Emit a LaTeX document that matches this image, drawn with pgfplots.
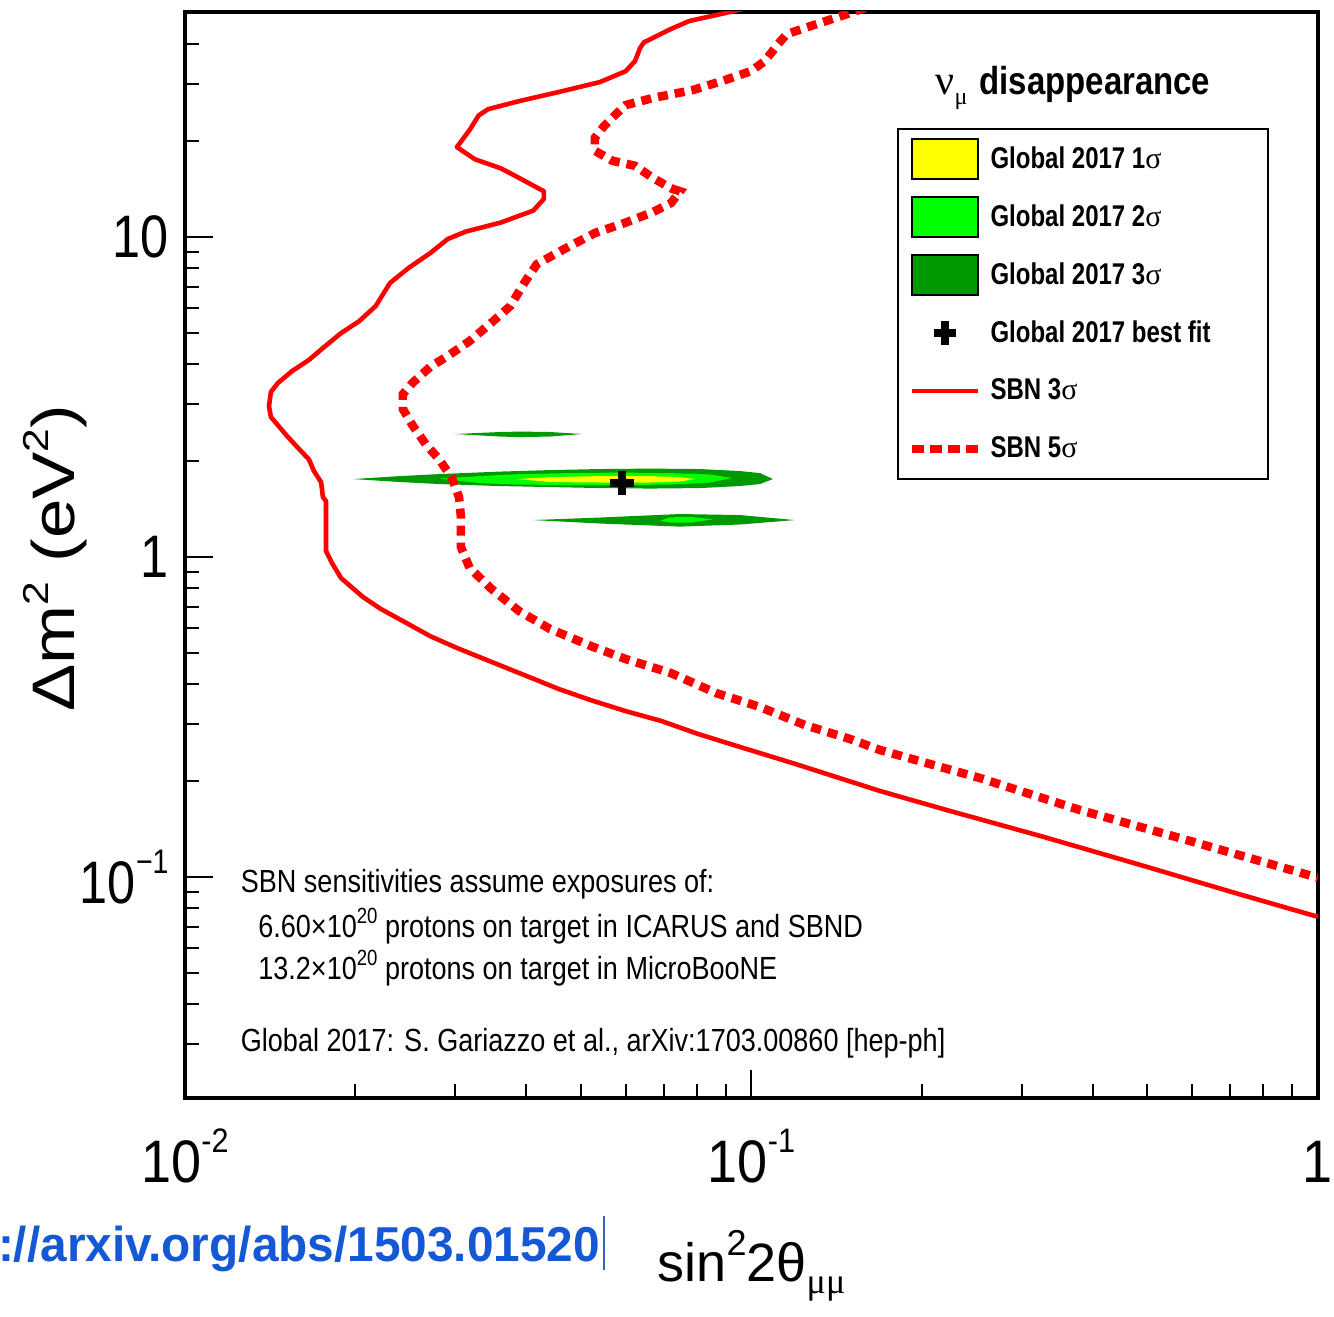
\documentclass[border=0pt]{standalone}
\usepackage{fontspec}
\setmainfont{Liberation Sans}
\newfontfamily\cnd{Liberation Sans}[FakeStretch=0.845]
\newfontfamily\lgd{Liberation Sans}[FakeStretch=0.8]
\newfontfamily\xtk{Liberation Sans}[FakeStretch=0.9]
\newfontfamily\ytk{Liberation Sans}[FakeStretch=0.84]
\newfontfamily\wide{Liberation Sans}[FakeStretch=1.18]
\newfontfamily\grk{Liberation Serif}
\newfontfamily\urlfont{Liberation Sans}[FakeStretch=0.975]
\usepackage{pgfplots}
\pgfplotsset{compat=1.18}
\definecolor{ylw}{RGB}{255,255,0}
\definecolor{lgr}{RGB}{0,255,0}
\definecolor{dgr}{RGB}{0,153,0}
\definecolor{rred}{RGB}{255,0,0}
\definecolor{urlblue}{RGB}{21,88,214}
\newcommand{\fs}[1]{\fontsize{#1}{#1}\selectfont}
\begin{document}
\begin{tikzpicture}
\begin{axis}[
 name=ax, at={(0pt,0pt)}, anchor=south west,
 width=566.5pt, height=543pt, scale only axis,
 xmode=log, ymode=log,
 xmin=0.01, xmax=1, ymin=0.0204, ymax=50.5,
 axis line style={line width=2pt},
 tick align=inside, tick pos=left,
 major tick length=14pt, minor tick length=7pt,
 every tick/.append style={black, line width=1pt},
 xtick={0.01,0.1,1},
 xticklabels={{10\raisebox{15pt}{\fs{17}-2}},{10\raisebox{15pt}{\fs{17}-1}},{1}},
 ytick={0.1,1,10},
 yticklabels={{10\raisebox{15pt}{\fs{17}−1}},{1},{10}},
 minor xtick={0.02,0.03,0.04,0.05,0.06,0.07,0.08,0.09,0.2,0.3,0.4,0.5,0.6,0.7,0.8,0.9},
 minor ytick={0.03,0.04,0.05,0.06,0.07,0.08,0.09,0.2,0.3,0.4,0.5,0.6,0.7,0.8,0.9,2,3,4,5,6,7,8,9,20,30,40},
 xticklabel style={font=\xtk\fs{30}, anchor=base, inner sep=0pt, yshift=-42pt},
 yticklabel style={font=\ytk\fs{30}, anchor=east, inner sep=0pt, xshift=-8pt},
 xlabel={sin\raisebox{13pt}{\fs{18}2}2θ\raisebox{-6pt}{\grk\fs{18}μμ}},
 ylabel={Δm\raisebox{13pt}{\fs{18}2} (eV\raisebox{13pt}{\fs{18}2})},
 xlabel style={at={(axis description cs:0.5,-0.1694)}, anchor=base, font=\fs{27}},
 ylabel style={at={(axis description cs:-0.0971,0.497)}, anchor=base, font=\wide\fs{30}},
 legend style={at={(0.6284,0.8932)}, anchor=north west, draw=black, line width=1pt, fill=white,
   inner xsep=5pt, inner ysep=4.5pt, row sep=8pt,
   font=\lgd\bfseries\fs{15},
   nodes={inner sep=0.5pt},
   /tikz/every odd column/.append style={column sep=3.5pt}},
 legend cell align=left,
]
% Global 2017 regions
\addplot[fill=dgr, draw=none, forget plot] coordinates {
(0.01980,1.753) (0.02396,1.791) (0.02819,1.817) (0.03597,1.850) (0.04410,1.870) (0.05402,1.884) (0.0662,1.890) (0.08111,1.884) (0.09544,1.857) (0.1035,1.830) (0.1091,1.753) (0.1035,1.691) (0.09544,1.667) (0.08111,1.643) (0.0662,1.637) (0.05402,1.643) (0.04410,1.655) (0.03597,1.667) (0.02819,1.691) (0.02396,1.716)};
\addplot[fill=dgr, draw=none, forget plot] coordinates {
(0.02996,2.424) (0.03597,2.459) (0.03903,2.467) (0.04410,2.459) (0.05021,2.424) (0.04410,2.380) (0.03903,2.371) (0.03597,2.380)};
\addplot[fill=dgr, draw=none, forget plot] coordinates {
(0.04115,1.305) (0.05402,1.329) (0.07476,1.363) (0.09544,1.353) (0.1193,1.305) (0.09544,1.264) (0.07476,1.245) (0.05402,1.273)};
\addplot[fill=lgr, draw=none, forget plot] coordinates {
(0.02819,1.759) (0.03317,1.791) (0.03903,1.817) (0.04781,1.830) (0.05861,1.837) (0.07181,1.830) (0.08448,1.811) (0.09239,1.766) (0.08448,1.710) (0.07181,1.685) (0.05861,1.679) (0.04781,1.679) (0.03903,1.685) (0.03317,1.703)};
\addplot[fill=lgr, draw=none, forget plot] coordinates {
(0.06896,1.300) (0.07181,1.330) (0.07789,1.337) (0.08551,1.312) (0.07789,1.280) (0.07181,1.282)};
\addplot[fill=ylw, draw=none, forget plot] coordinates {
(0.03856,1.753) (0.04410,1.778) (0.05402,1.791) (0.0662,1.791) (0.07476,1.778) (0.07948,1.753) (0.07476,1.722) (0.0662,1.710) (0.05402,1.710) (0.04410,1.716)};
% SBN 3 sigma
\addplot[rred, line width=2.3pt, line join=round, forget plot] coordinates {
(0.0982,52.0) (0.0898,50.1) (0.0776,47.3) (0.0721,44.7) (0.0646,40.6) (0.0636,39.0) (0.0623,35.5) (0.0600,33.0) (0.0540,30.5) (0.0457,28.4) (0.0389,26.6) (0.0343,25.1) (0.0330,24.0) (0.0318,21.6) (0.0302,19.1) (0.0325,17.5) (0.0361,16.4) (0.0389,15.3) (0.0430,13.9) (0.0430,13.15) (0.0412,12.1) (0.0361,11.1) (0.0313,10.4) (0.0291,9.86) (0.0271,8.91) (0.0248,8.0) (0.0230,7.18) (0.0217,6.08) (0.0203,5.46) (0.01886,5.01) (0.01752,4.50) (0.01655,4.13) (0.01545,3.81) (0.01459,3.50) (0.01418,3.28) (0.01407,2.96) (0.01418,2.74) (0.01514,2.39) (0.01596,2.16) (0.01655,2.02) (0.01689,1.858) (0.01739,1.714) (0.01752,1.54) (0.01774,1.496) (0.01774,1.044) (0.01818,0.958) (0.01886,0.860) (0.02062,0.750) (0.02218,0.688) (0.02425,0.631) (0.0271,0.566) (0.0302,0.520) (0.0348,0.470) (0.0397,0.428) (0.0457,0.387) (0.0521,0.357) (0.0600,0.330) (0.0695,0.307) (0.0805,0.280) (0.0931,0.2585) (0.1198,0.2254) (0.1686,0.1858) (0.2211,0.162) (0.3271,0.1337) (0.4983,0.1077) (0.7186,0.0889) (0.9748,0.0761) (1.0,0.0752)};
% SBN 5 sigma
\addplot[rred, line width=4.3pt, dash pattern=on 5pt off 3.5pt, forget plot] coordinates {
(0.1586,52.0) (0.1493,50.1) (0.1289,46.0) (0.1155,43.1) (0.1114,40.1) (0.1056,35.5) (0.0998,33.0) (0.0898,30.95) (0.0788,28.8) (0.0670,27.2) (0.0600,25.85) (0.0579,24.4) (0.0549,22.2) (0.0529,20.4) (0.0529,18.6) (0.0569,17.3) (0.0623,16.7) (0.0670,15.3) (0.0721,14.2) (0.0748,13.9) (0.0721,12.77) (0.0670,11.97) (0.0600,11.1) (0.0529,10.29) (0.0467,9.17) (0.0418,8.23) (0.0397,7.18) (0.0375,6.08) (0.0350,5.46) (0.0318,4.73) (0.0291,4.25) (0.0271,3.93) (0.0252,3.50) (0.02425,3.23) (0.02425,2.90) (0.0252,2.585) (0.0266,2.254) (0.0281,2.02) (0.0296,1.766) (0.03046,1.54) (0.0307,1.334) (0.0307,1.075) (0.0318,0.925) (0.0348,0.794) (0.0389,0.678) (0.0441,0.596) (0.0521,0.527) (0.0600,0.480) (0.0721,0.434) (0.0866,0.376) (0.1035,0.340) (0.1243,0.2985) (0.1493,0.270) (0.1686,0.2495) (0.2532,0.2039) (0.3801,0.162) (0.5705,0.1324) (0.8567,0.1077) (1.0,0.0995)};
% best fit
\addplot[only marks, mark=+, mark size=6pt, line width=4pt, black, forget plot] coordinates {(0.0591,1.710)};
% legend
\addlegendimage{legend image code/.code={\draw[fill=ylw,draw=black,line width=1pt] (0pt,-10pt) rectangle (33pt,10pt);}}
\addlegendentry{Global 2017 1{\grk\mdseries σ}}
\addlegendimage{legend image code/.code={\draw[fill=lgr,draw=black,line width=1pt] (0pt,-10pt) rectangle (33pt,10pt);}}
\addlegendentry{Global 2017 2{\grk\mdseries σ}}
\addlegendimage{legend image code/.code={\draw[fill=dgr,draw=black,line width=1pt] (0pt,-10pt) rectangle (33pt,10pt);}}
\addlegendentry{Global 2017 3{\grk\mdseries σ}}
\addlegendimage{legend image code/.code={\path[draw=none,fill=none] (-0.5pt,-10.5pt) rectangle (33.5pt,10.5pt); \draw[black,line width=4pt] (11pt,0pt) -- (22pt,0pt) (16.5pt,-6pt) -- (16.5pt,6pt);}}
\addlegendentry{Global 2017 best fit\hspace*{23pt}\null}
\addlegendimage{legend image code/.code={\path[draw=none,fill=none] (-0.5pt,-10.5pt) rectangle (33.5pt,10.5pt); \draw[rred,line width=2.2pt] (0pt,0pt) -- (33pt,0pt);}}
\addlegendentry{SBN 3{\grk\mdseries σ}}
\addlegendimage{legend image code/.code={\path[draw=none,fill=none] (-0.5pt,-10.5pt) rectangle (33.5pt,10.5pt); \draw[rred,line width=4.3pt,dash pattern=on 6pt off 3pt] (0pt,0pt) -- (33pt,0pt);}}
\addlegendentry{SBN 5{\grk\mdseries σ}}
% texts
\node[anchor=base, inner sep=0pt] at (axis description cs:0.7837,0.9236)
  {{\grk\fs{21}ν}\raisebox{-5pt}{\grk\fs{12}μ}\hspace{6pt}{\cnd\bfseries\fs{19.5}disappearance}};
\node[anchor=base west, inner sep=0pt, font=\cnd\fs{16}] at (axis description cs:0.049,0.1888) {SBN sensitivities assume exposures of:};
\node[anchor=base west, inner sep=0pt, font=\cnd\fs{16}] at (axis description cs:0.0644,0.1478) {6.60×10\raisebox{7pt}{\fs{11}20} protons on target in ICARUS and SBND};
\node[anchor=base west, inner sep=0pt, font=\cnd\fs{16}] at (axis description cs:0.0644,0.1087) {13.2×10\raisebox{7pt}{\fs{11}20} protons on target in MicroBooNE};
\node[anchor=base west, inner sep=0pt, font=\cnd\fs{16}] at (axis description cs:0.049,0.0424) {Global 2017: S. Gariazzo et al., arXiv:1703.00860 [hep-ph]};
\end{axis}
\node[anchor=base east, inner sep=0pt, text=urlblue, font=\urlfont\bfseries\fs{24.5}] at ([shift={(210pt,-82pt)}]ax.south west)
  {https://arxiv.org/abs/1503.01520\hspace{1.5pt}\textcolor{urlblue!70!gray}{\rule[-4pt]{0.8pt}{27pt}}};
\pgfresetboundingbox
\path[use as bounding box] ([shift={(-92.5pt,-109.5pt)}]ax.south west) rectangle ([shift={(8pt,6pt)}]ax.north east);
\end{tikzpicture}
\end{document}
